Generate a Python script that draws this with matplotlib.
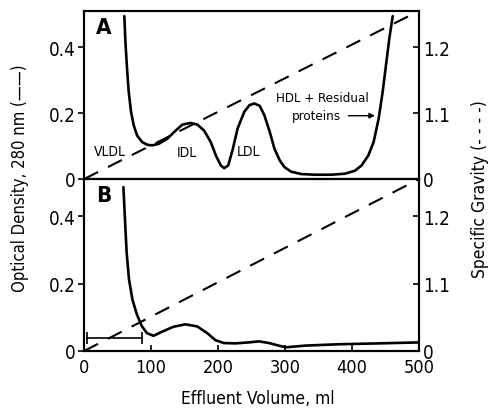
import matplotlib.pyplot as plt
from matplotlib.ticker import FixedLocator

plt.rcParams['font.family'] = ['DejaVu Sans']
plt.rcParams['font.stretch'] = 'condensed'

# panel A: elution profile, optical density at 280 nm
vol_a = [60, 61.6, 64, 66.5, 70, 74, 79, 86.6, 94, 101.6, 111.6, 124, 136.6, 146.7,
         159, 169, 179, 189, 196.7, 204, 209, 215, 222, 229, 239, 246.7, 254, 262,
         269, 277, 284, 292, 299, 309, 324, 344, 369, 389, 404, 414, 424, 432, 439.5,
         445.5, 450.5, 455.5, 460.5]
od_a = [0.494, 0.417, 0.336, 0.265, 0.204, 0.163, 0.132, 0.112, 0.104, 0.102, 0.107,
        0.122, 0.147, 0.165, 0.170, 0.165, 0.147, 0.112, 0.071, 0.041, 0.033, 0.041,
        0.092, 0.153, 0.204, 0.224, 0.229, 0.222, 0.193, 0.143, 0.092, 0.056, 0.036,
        0.022, 0.015, 0.013, 0.013, 0.016, 0.025, 0.041, 0.071, 0.112, 0.183, 0.265,
        0.346, 0.427, 0.494]

# panel B
vol_b = [58.6, 61, 63.5, 67, 72, 78.6, 86, 93.6, 103.6, 116, 133.6, 151, 168.6, 183.6,
         196, 208.7, 226, 246, 261, 276, 291, 301, 331, 381, 441, 501]
od_b = [0.486, 0.388, 0.29, 0.212, 0.153, 0.109, 0.074, 0.053, 0.045, 0.057, 0.072,
        0.079, 0.073, 0.053, 0.032, 0.0235, 0.0226, 0.0255, 0.0285, 0.0235, 0.0156,
        0.011, 0.016, 0.02, 0.0226, 0.0255]

# density gradient (dashed line, right axis)
grad_vol = [0, 500]
grad_sg = [1.0, 1.255]

# sample application bar in panel B
bar_vol = [4.5, 86]
bar_od = 0.038

labels_a = [('VLDL', 39, 0.085), ('IDL', 153, 0.083), ('LDL', 245, 0.085)]

fig = plt.figure(figsize=(4.92, 4.10), dpi=100)
ax_a = fig.add_axes([0.171, 0.561, 0.681, 0.410])
ax_b = fig.add_axes([0.171, 0.1415, 0.681, 0.4195])

for ax, vol, od, tag in [(ax_a, vol_a, od_a, 'A'), (ax_b, vol_b, od_b, 'B')]:
    ax.plot(vol, od, color='black', lw=1.9, solid_capstyle='round', solid_joinstyle='round')
    ax.set_xlim(0, 500)
    ax.set_ylim(0, 0.51)
    ax.set_yticks([0, 0.2, 0.4])
    ax.set_yticklabels(['0', '0.2', '0.4'], fontsize=13.5)
    ax.tick_params(axis='y', direction='out', length=4, width=1.2, pad=2)
    ax.tick_params(axis='x', direction='in', length=4, width=1.2)
    for s in ax.spines.values():
        s.set_linewidth(1.5)
    ax.text(18, 0.492, tag, fontsize=16, fontweight='bold', va='top', ha='left')

    ax2 = ax.twinx()
    ax2.plot(grad_vol, grad_sg, color='black', lw=1.5, dashes=(7.5, 5.3))
    ax2.set_ylim(1.0, 1.255)
    ax2.yaxis.set_major_locator(FixedLocator([1.0, 1.1, 1.2]))
    ax2.set_yticklabels(['0', '1.1', '1.2'], fontsize=13.5)
    ax2.tick_params(axis='y', direction='in', length=4, width=1.2, pad=3)
    for s in ax2.spines.values():
        s.set_linewidth(1.5)

ax_a.set_xticks([])
ax_b.set_xticks([0, 100, 200, 300, 400, 500])
ax_b.set_xticklabels(['0', '100', '200', '300', '400', '500'], fontsize=13)
ax_b.tick_params(axis='x', pad=5)

for txt, x, y in labels_a:
    ax_a.text(x, y, txt, fontsize=10, ha='center', va='center')
ax_a.text(355, 0.247, 'HDL + Residual', fontsize=9.5, ha='center', va='center')
ax_a.annotate('proteins', xy=(434, 0.192), xytext=(384, 0.192), fontsize=9.5,
              ha='right', va='center',
              arrowprops=dict(arrowstyle='-|>', color='black', lw=1.0,
                              mutation_scale=8, shrinkA=3, shrinkB=0))

ax_b.plot(bar_vol, [bar_od, bar_od], color='black', lw=1.2, marker='|', ms=8, mew=1.2)

fig.text(0.041, 0.566, 'Optical Density, 280 nm (——)', rotation=90, fontsize=12,
         ha='center', va='center')
fig.text(0.975, 0.54, 'Specific Gravity (- - - -)', rotation=90, fontsize=12.5,
         ha='center', va='center')
fig.text(0.524, 0.028, 'Effluent Volume, ml', fontsize=12.5, ha='center', va='center')

fig.savefig('out.png', dpi=100)
